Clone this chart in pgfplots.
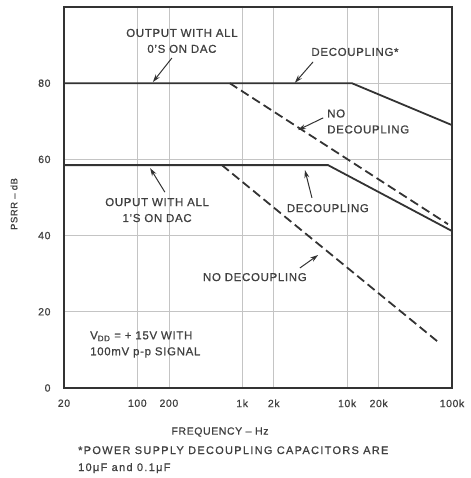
\documentclass[border=0pt]{standalone}
\usepackage{fontspec}
\setmainfont{Liberation Sans}[LetterSpace=6, FakeBold=0.8]
\newfontfamily\notefont{Liberation Sans}[LetterSpace=12, FakeBold=0.8]
\usepackage{pgfplots}
\pgfplotsset{compat=1.18}
\usetikzlibrary{arrows.meta}

\definecolor{ink}{HTML}{333333}
\definecolor{txt}{HTML}{404040}
\definecolor{gridc}{HTML}{C4C4C4}

\tikzset{
  lbl/.style={font=\fontsize{11.5}{16}\selectfont, text=txt, inner sep=0pt},
  ptr/.style={draw=ink, line width=1pt, -{Stealth[length=8pt,width=5pt]}},
}

\begin{document}
\begin{tikzpicture}
\begin{axis}[
    name=ax,
    xmode=log,
    scale only axis,
    width=388bp, height=381bp,
    xmin=20, xmax=100000,
    ymin=0, ymax=100,
    xtick={20,100,200,1000,2000,10000,20000,100000},
    xticklabels={20,100,200,1k,2k,10k,20k,100k},
    ytick={0,20,40,60,80},
    minor xtick={},
    major tick length=0pt,
    grid=major,
    major grid style={draw=gridc, line width=0.7pt},
    axis line style={draw=ink, line width=1.5pt},
    /pgf/number format/assume math mode=true,
    tick label style={font=\fontsize{10.5}{12}\selectfont, text=txt},
    xticklabel style={yshift=-8bp},
    yticklabel style={xshift=-10bp},
    clip=false,
]
% 0's on DAC, decoupling
\addplot[draw=ink, line width=1.8pt] coordinates {(20,80) (11100,80) (100000,69)};
% 0's on DAC, no decoupling
\addplot[draw=ink, line width=1.8pt, dash pattern=on 9pt off 4.5pt] coordinates {(760,80) (91600,43)};
% 1's on DAC, decoupling
\addplot[draw=ink, line width=1.8pt] coordinates {(20,58.5) (6580,58.5) (100000,41.2)};
% 1's on DAC, no decoupling
\addplot[draw=ink, line width=1.8pt, dash pattern=on 9pt off 4.5pt] coordinates {(640,58.5) (73600,12.1)};

\node[lbl, align=center] at (rel axis cs:0.304,0.911) {OUTPUT WITH ALL\\0'S ON DAC};
\draw[ptr] (rel axis cs:0.278,0.866) -- (rel axis cs:0.229,0.803);

\node[lbl] at (rel axis cs:0.750,0.882) {DECOUPLING*};
\draw[ptr] (rel axis cs:0.642,0.856) -- (rel axis cs:0.595,0.801);

\node[lbl, align=left, anchor=west] at (rel axis cs:0.678,0.6995) {NO\\DECOUPLING};
\draw[ptr] (rel axis cs:0.668,0.709) -- (rel axis cs:0.603,0.677);

\node[lbl, align=center] at (rel axis cs:0.240,0.467) {OUPUT WITH ALL\\1'S ON DAC};
\draw[ptr] (rel axis cs:0.260,0.514) -- (rel axis cs:0.222,0.577);

\node[lbl] at (rel axis cs:0.680,0.472) {DECOUPLING};
\draw[ptr] (rel axis cs:0.639,0.499) -- (rel axis cs:0.621,0.572);

\node[lbl] at (rel axis cs:0.492,0.291) {NO DECOUPLING};
\draw[ptr] (rel axis cs:0.608,0.315) -- (rel axis cs:0.655,0.349);

\node[lbl, align=left, anchor=west] at (rel axis cs:0.067,0.114) {V\textsubscript{DD} = + 15V WITH\\100mV p-p SIGNAL};
\end{axis}
% axis titles and footnote
\node[font=\fontsize{9.5}{11}\selectfont, text=txt, rotate=90] at ([xshift=-50bp]ax.south west |- 0,184bp) {PSRR -- dB};
\node[font=\fontsize{10.5}{12}\selectfont, text=txt, inner sep=0pt] at ([xshift=156bp,yshift=-44bp]ax.south west) {FREQUENCY -- Hz};
\node[font=\notefont\fontsize{11}{13}\selectfont, text=txt, inner sep=0pt, anchor=base west] at ([xshift=14bp,yshift=-66bp]ax.south west) {*POWER SUPPLY DECOUPLING CAPACITORS ARE};
\node[font=\notefont\fontsize{11}{13}\selectfont, text=txt, inner sep=0pt, anchor=base west] at ([xshift=14bp,yshift=-83bp]ax.south west) {10μF and 0.1μF};
\path (ax.south west) ++(-64bp,-90bp) rectangle ++(471bp,478bp);
\end{tikzpicture}
\end{document}
